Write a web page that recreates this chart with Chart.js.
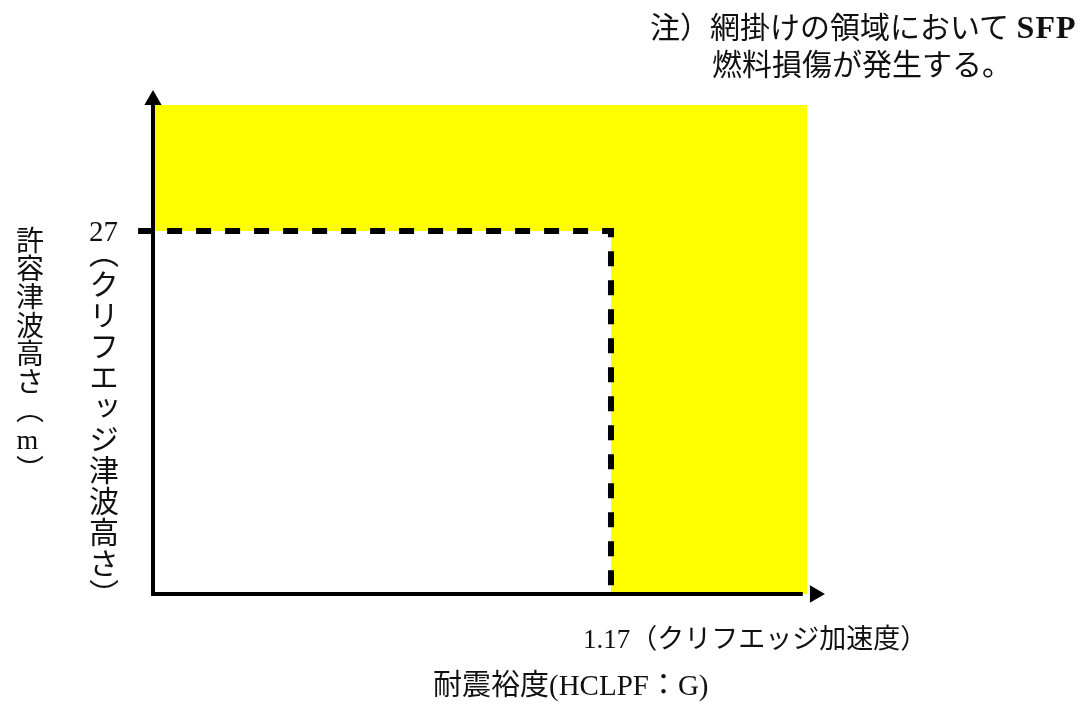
<!DOCTYPE html>
<html lang="ja">
<head>
    <meta charset="UTF-8">
    <title>許容津波高さと耐震裕度</title>
    <script src="https://cdn.jsdelivr.net/npm/chart.js"></script>
    <style>
        body {
            margin: 0;
            background-color: #fff;
        }
        .wrap {
            position: relative;
            width: 1086px;
            height: 708px;
        }
        .label {
            position: absolute;
            font-family: 'Liberation Serif', 'Noto Sans CJK JP', serif;
            color: #111;
            white-space: nowrap;
            line-height: 1;
        }
        .vertical {
            writing-mode: vertical-rl;
        }
        .upright {
            text-orientation: upright;
        }
        .latin {
            font-weight: bold;
            font-size: 32px;
            letter-spacing: 1px;
        }
    </style>
</head>
<body>

<div class="wrap">
    <canvas id="chart"></canvas>

    <div class="label" style="left:650px; top:11px; font-size:30px;">注）網掛けの領域において <span class="latin">SFP</span></div>
    <div class="label" style="left:712px; top:50px; font-size:30px;">燃料損傷が発生する。</div>

    <div class="label vertical" style="left:13px; top:226px; font-size:28px; letter-spacing:0.3px;">許容津波高さ（<span class="upright">m</span>）</div>

    <div class="label" id="yTickLabel" style="left:89px; top:217px; font-size:29px;"></div>
    <div class="label vertical" style="left:86px; top:238px; font-size:30px; letter-spacing:1px;">（クリフエッジ津波高さ）</div>

    <div class="label" id="xTickLabel" style="left:583px; top:626px; font-size:27px;"></div>
    <div class="label" style="left:433px; top:671px; font-size:29px;">耐震裕度(HCLPF：G)</div>
</div>

<script>
    // cliff edge values
    const xTicks = [1.17];
    const yTicks = [27];
    const xTickLabels = ['1.17（クリフエッジ加速度）'];
    const yTickLabels = ['27'];

    // yellow region (SFP fuel damage) upper edge, and the safe box under the cliff edge
    const regionX = [0, 1.671];
    const regionY = [36.37, 36.37];
    const safeX = [0, xTicks[0]];
    const safeY = [yTicks[0], yTicks[0]];

    // dashed cliff edge line
    const cliffX = [-0.038, xTicks[0], xTicks[0]];
    const cliffY = [yTicks[0], yTicks[0], 0];

    // axis lines and arrow heads
    const yAxisX = [0, 0];
    const yAxisY = [-0.1, 36.4];
    const xAxisX = [-0.005, 1.66];
    const xAxisY = [0, 0];
    const arrowX = [0, 1.691];
    const arrowY = [36.74, 0];
    const arrowRotation = [0, 90];

    function toPoints(xs, ys) {
        return xs.map((x, i) => ({ x: x, y: ys[i] }));
    }

    document.getElementById('xTickLabel').textContent = xTickLabels[0];
    document.getElementById('yTickLabel').textContent = yTickLabels[0];

    const lineBase = {
        pointRadius: 0,
        borderColor: '#000',
        fill: false,
        tension: 0
    };

    new Chart(document.getElementById('chart'), {
        type: 'line',
        data: {
            datasets: [
                {
                    ...lineBase,
                    data: toPoints(regionX, regionY),
                    fill: 'origin',
                    backgroundColor: '#ffff00',
                    borderWidth: 0,
                    order: 5
                },
                {
                    ...lineBase,
                    data: toPoints(safeX, safeY),
                    fill: 'origin',
                    backgroundColor: '#ffffff',
                    borderWidth: 0,
                    order: 4
                },
                {
                    ...lineBase,
                    data: toPoints(cliffX, cliffY),
                    borderWidth: 6,
                    borderDash: [15, 14],
                    borderCapStyle: 'butt',
                    borderJoinStyle: 'miter',
                    order: 3
                },
                {
                    ...lineBase,
                    data: toPoints(yAxisX, yAxisY),
                    borderWidth: 4,
                    order: 2
                },
                {
                    ...lineBase,
                    data: toPoints(xAxisX, xAxisY),
                    borderWidth: 4,
                    order: 2
                },
                {
                    data: toPoints(arrowX, arrowY),
                    showLine: false,
                    pointStyle: 'triangle',
                    pointRadius: 10,
                    pointRotation: arrowRotation,
                    pointBackgroundColor: '#000',
                    pointBorderWidth: 0,
                    order: 1
                }
            ]
        },
        options: {
            responsive: true,
            maintainAspectRatio: false,
            animation: false,
            clip: false,
            events: [],
            layout: {
                padding: { left: 129.5, right: 255.8, top: 85.8, bottom: 111.3 }
            },
            plugins: {
                legend: { display: false },
                tooltip: { enabled: false }
            },
            scales: {
                x: { type: 'linear', min: -0.06, max: 1.73, display: false },
                y: { type: 'linear', min: -0.2, max: 37.8, display: false }
            }
        }
    });
</script>

</body>
</html>
